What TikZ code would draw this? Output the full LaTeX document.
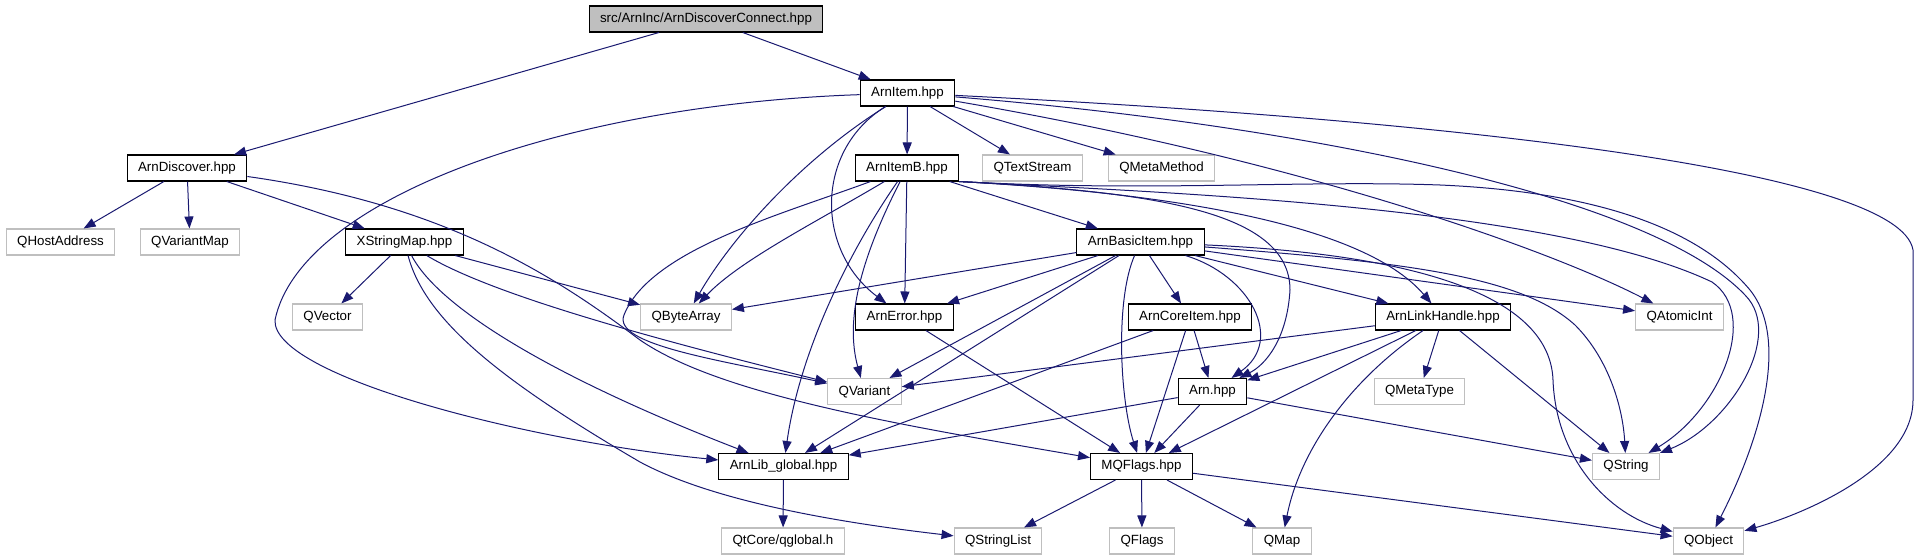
\documentclass[tikz,border=0pt]{standalone}
\usepackage{fontspec}
\setmainfont{Liberation Sans}
\usetikzlibrary{arrows.meta}
\definecolor{edgeblue}{RGB}{25,25,112}
\definecolor{extgray}{RGB}{191,191,191}

\begin{document}
\begin{tikzpicture}[
    x=0.75pt, y=-0.75pt,
    file/.style={rectangle, draw=black, line width=0.8pt, fill=white, minimum height=19.5pt, inner xsep=8.2pt, inner ysep=0pt, font=\fontsize{10pt}{12pt}\selectfont},
    ext/.style={file, draw=extgray},
    rootfile/.style={file, fill=extgray},
    inc/.style={draw=edgeblue, line width=0.75pt, -{Triangle[length=9pt,width=6.8pt]}}
  ]
  \useasboundingbox (0,0) rectangle (1918,560);

  % Files of the project
  \node[rootfile] (ROOT) at (706,19) {src/ArnInc/ArnDiscoverConnect.hpp};
  \node[file] (ARNITEM) at (907.5,93) {ArnItem.hpp};
  \node[file] (ARNDISC) at (187,168) {ArnDiscover.hpp};
  \node[file] (ARNITEMB) at (907,168) {ArnItemB.hpp};
  \node[file] (XSM) at (404.5,242) {XStringMap.hpp};
  \node[file] (BASIC) at (1140.5,242) {ArnBasicItem.hpp};
  \node[file] (ERR) at (904.5,317) {ArnError.hpp};
  \node[file] (CORE) at (1190,317) {ArnCoreItem.hpp};
  \node[file] (LINK) at (1443,317) {ArnLinkHandle.hpp};
  \node[file] (ARN) at (1212.5,391.5) {Arn.hpp};
  \node[file] (GLOBAL) at (783.5,466.5) {ArnLib\_global.hpp};
  \node[file] (MQF) at (1141.5,466.5) {MQFlags.hpp};

  % Qt headers
  \node[ext] (QTS) at (1032.5,168) {QTextStream};
  \node[ext] (QMM) at (1161.5,168) {QMetaMethod};
  \node[ext] (QHA) at (60.5,242) {QHostAddress};
  \node[ext] (QVM) at (190,242) {QVariantMap};
  \node[ext] (QVEC) at (327.5,317) {QVector};
  \node[ext] (QBA) at (686,317) {QByteArray};
  \node[ext] (QAI) at (1679.5,317) {QAtomicInt};
  \node[ext] (QVAR) at (864.5,391.5) {QVariant};
  \node[ext] (QMT) at (1419.5,391.5) {QMetaType};
  \node[ext] (QSTR) at (1626,466.5) {QString};
  \node[ext] (QGLOB) at (783,541) {QtCore/qglobal.h};
  \node[ext] (QSL) at (998,541) {QStringList};
  \node[ext] (QFL) at (1142,541) {QFlags};
  \node[ext] (QMAP) at (1282,541) {QMap};
  \node[ext] (QOBJ) at (1708.5,541) {QObject};

  % Root includes
  \draw[inc] (ROOT) -- (ARNDISC);
  \draw[inc] (ROOT) -- (ARNITEM);

  % ArnDiscover.hpp
  \draw[inc] (ARNDISC) -- (QHA);
  \draw[inc] (ARNDISC) -- (QVM);
  \draw[inc] (ARNDISC) -- (XSM);
  \draw[inc] (ARNDISC) .. controls (450,205) and (560,280) .. (640,340)
                       .. controls (720,395) and (900,425) .. (MQF);

  % XStringMap.hpp
  \draw[inc] (XSM) -- (QVEC);
  \draw[inc] (XSM) -- (QBA);
  \draw[inc] (XSM) .. controls (500,300) and (700,350) .. (QVAR);
  \draw[inc] (XSM) .. controls (440,310) and (560,380) .. (GLOBAL);
  \draw[inc] (XSM) .. controls (425,320) and (500,380) .. (640,462)
                   .. controls (720,505) and (860,525) .. (QSL);

  % ArnItem.hpp
  \draw[inc] (ARNITEM) -- (ARNITEMB);
  \draw[inc] (ARNITEM) -- (QTS);
  \draw[inc] (ARNITEM) -- (QMM);
  \draw[inc] (ARNITEM) .. controls (560,105) and (300,200) .. (275,320)
                       .. controls (272,375) and (520,440) .. (GLOBAL);
  \draw[inc] (ARNITEM) .. controls (800,160) and (730,240) .. (QBA);
  \draw[inc] (ARNITEM) .. controls (815,150) and (815,250) .. (ERR);
  \draw[inc] (ARNITEM) .. controls (1300,160) and (1550,250) .. (QAI);
  \draw[inc] (ARNITEM) .. controls (1300,125) and (1650,195) .. (1745,295)
                       .. controls (1785,335) and (1730,425) .. (QSTR);
  \draw[inc] (ARNITEM) .. controls (1450,120) and (1900,170) .. (1913,250)
                       -- (1913,400) .. controls (1913,470) and (1800,515) .. (QOBJ);

  % ArnItemB.hpp
  \draw[inc] (ARNITEMB) -- (ERR);
  \draw[inc] (ARNITEMB) -- (BASIC);
  \draw[inc] (ARNITEMB) .. controls (820,220) and (740,260) .. (QBA);
  \draw[inc] (ARNITEMB) .. controls (780,215) and (650,250) .. (624,315)
                        .. controls (612,345) and (720,360) .. (QVAR);
  \draw[inc] (ARNITEMB) .. controls (860,260) and (845,320) .. (QVAR);
  \draw[inc] (ARNITEMB) .. controls (850,250) and (800,350) .. (GLOBAL);
  \draw[inc] (ARNITEMB.south east) .. controls (1150,192) and (1290,210) .. (1290,290)
                        .. controls (1287,340) and (1265,365) .. (ARN);
  \draw[inc] (ARNITEMB.south east) .. controls (1150,192) and (1360,220) .. (LINK);
  \draw[inc] (ARNITEMB.south east) .. controls (1150,192) and (1550,205) .. (1712,282)
                        .. controls (1760,315) and (1720,410) .. (QSTR);
  \draw[inc] (ARNITEMB.south east) .. controls (1150,192) and (1300,180) .. (1440,185)
                        .. controls (1600,192) and (1700,230) .. (1750,290)
                        .. controls (1790,340) and (1760,440) .. (QOBJ);

  % ArnBasicItem.hpp
  \draw[inc] (BASIC) -- (QBA);
  \draw[inc] (BASIC) -- (ERR);
  \draw[inc] (BASIC) -- (QVAR);
  \draw[inc] (BASIC) -- (GLOBAL);
  \draw[inc] (BASIC) .. controls (1115,300) and (1120,400) .. (MQF);
  \draw[inc] (BASIC) -- (CORE);
  \draw[inc] (BASIC) .. controls (1250,275) and (1285,340) .. (ARN);
  \draw[inc] (BASIC) -- (LINK);
  \draw[inc] (BASIC) -- (QAI);
  \draw[inc] (BASIC) .. controls (1400,262) and (1520,275) .. (1575,325)
                     .. controls (1610,360) and (1623,410) .. (QSTR);
  \draw[inc] (BASIC) .. controls (1430,255) and (1550,300) .. (1553,380)
                     .. controls (1556,460) and (1610,515) .. (QOBJ);

  % ArnError.hpp, ArnCoreItem.hpp
  \draw[inc] (ERR) -- (MQF);
  \draw[inc] (CORE) -- (GLOBAL);
  \draw[inc] (CORE) -- (MQF);
  \draw[inc] (CORE) -- (ARN);

  % ArnLinkHandle.hpp
  \draw[inc] (LINK) -- (QVAR);
  \draw[inc] (LINK) -- (ARN);
  \draw[inc] (LINK) -- (MQF);
  \draw[inc] (LINK) .. controls (1350,380) and (1300,450) .. (QMAP);
  \draw[inc] (LINK) -- (QMT);
  \draw[inc] (LINK) -- (QSTR);

  % Arn.hpp
  \draw[inc] (ARN) -- (GLOBAL);
  \draw[inc] (ARN) -- (MQF);
  \draw[inc] (ARN) -- (QSTR);

  % MQFlags.hpp, ArnLib_global.hpp
  \draw[inc] (MQF) -- (QSL);
  \draw[inc] (MQF) -- (QFL);
  \draw[inc] (MQF) -- (QMAP);
  \draw[inc] (MQF) -- (QOBJ);
  \draw[inc] (GLOBAL) -- (QGLOB);
\end{tikzpicture}
\end{document}
